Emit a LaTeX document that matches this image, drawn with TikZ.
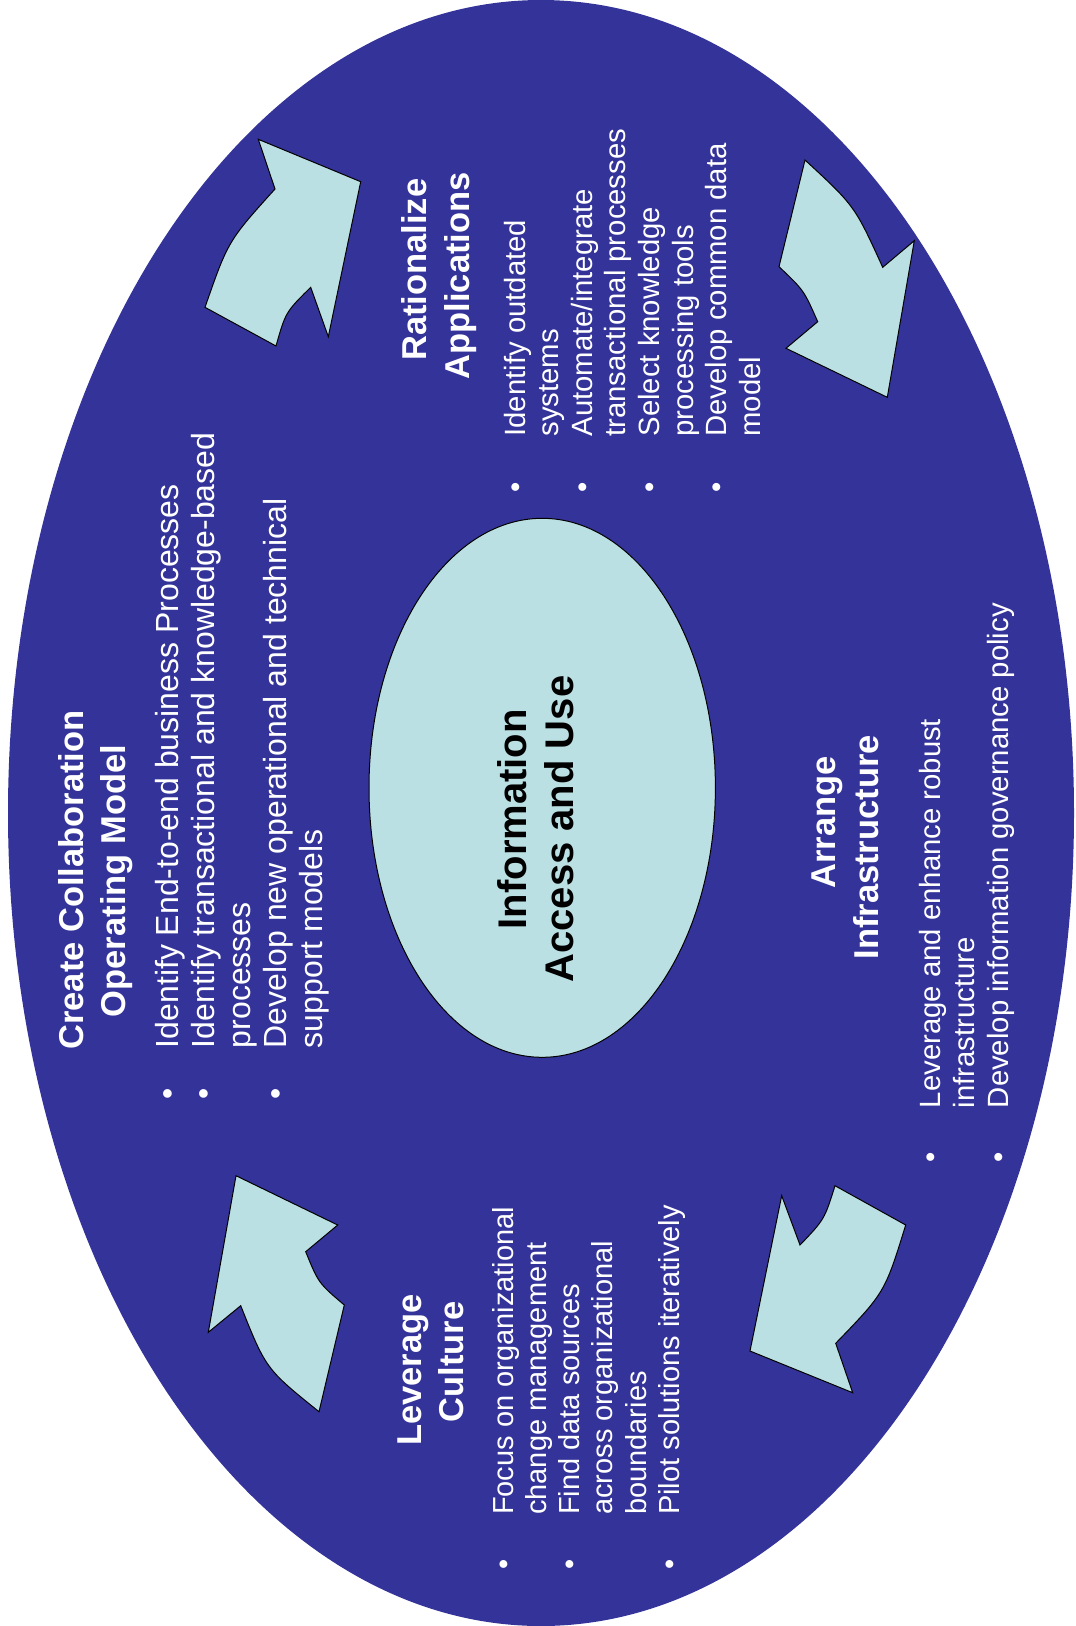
\documentclass[tikz,border=0pt]{standalone}
\usepackage{fontspec}
\setmainfont{Liberation Sans}
\definecolor{navy}{RGB}{51,51,153}
\definecolor{pale}{RGB}{187,224,227}
\newcommand\bul[1]{\llap{\textbullet\hspace{#1}}}
\tikzset{
  arrowshape/.style={fill=pale, draw=black, line width=1pt, line join=miter},
  head/.style={rotate=90, anchor=base, inner sep=0pt, text=white, font=\bfseries\fontsize{34.5}{40}\selectfont},
  body/.style={rotate=90, anchor=base west, inner sep=0pt, text=white},
  core/.style={rotate=90, anchor=base, inner sep=0pt, text=black, font=\bfseries\fontsize{40}{45}\selectfont}
}
\begin{document}
\begin{tikzpicture}[x=1pt,y=-1pt]
\useasboundingbox (0,0) rectangle (1076,1626);
% big ellipse
\fill[navy] (541,813) ellipse [x radius=533pt, y radius=813pt];
% inner ellipse
\draw[fill=pale, line width=1pt] (542.2,787.8) ellipse [x radius=173.2pt, y radius=269.5pt];

% arrow top-left
\draw[arrowshape] (258.3,139.3) -- (275,189) .. controls (228.1,241) .. (205,307.3)
  -- (276,346) .. controls (285.6,312.1) .. (310.7,287.3) -- (328.3,336.7) -- (360.7,181.7) -- cycle;
% arrow top-right
\draw[arrowshape] (805,160) .. controls (854.7,205.9) .. (882.7,267.3) -- (914.3,240.7)
  -- (887.3,397.3) -- (786,348.3) -- (817.7,321.7) .. controls (803.9,290.3) .. (779,266.7) -- cycle;
% arrow bottom-right
\draw[arrowshape] (835,1185.7) -- (905.7,1225) .. controls (884.8,1292.5) .. (835.7,1343.3)
  -- (852.7,1392.7) -- (750,1351) -- (781.7,1195.7) -- (800,1245) .. controls (824.4,1219.5) .. (835,1185.7) -- cycle;
% arrow bottom-left
\draw[arrowshape] (236,1175.7) -- (337.7,1225) -- (305.7,1251.7) .. controls (318.5,1283.1) .. (344.3,1305)
  -- (319,1411.7) .. controls (266,1369) .. (240.7,1305.7) -- (208.3,1332.3) -- cycle;

% centre text
\node[core] (c1) at (526.7,819.2) {Information};
\node[core] (c2) at (573.3,829) {Access and Use};

% Create Collaboration Operating Model
\node[head] (h1a) at (83.3,880) {Create Collaboration};
\node[head] (h1b) at (125,881) {Operating Model};
\node[body, font=\fontsize{32}{36}\selectfont] (b1) at (178.3,1048.3) {\begin{tabular}[t]{@{}l@{}}
\bul{40pt}Identify End-to-end business Processes\\
\bul{40pt}Identify transactional and knowledge-based\\
processes\\
\bul{40pt}Develop new operational and technical\\
support models\end{tabular}};

% Rationalize Applications
\node[head] (h2a) at (426,269.7) {Rationalize};
\node[head] (h2b) at (469.3,275.8) {Applications};
\node[body, font=\fontsize{29.3}{33.6}\selectfont] (b2) at (525,436.7) {\begin{tabular}[t]{@{}l@{}}
\bul{46pt}Identify outdated\\
systems\\
\bul{46pt}Automate/integrate\\
transactional processes\\
\bul{46pt}Select knowledge\\
processing tools\\
\bul{46pt}Develop common data\\
model\end{tabular}};

% Arrange Infrastructure
\node[head] (h3a) at (835,822.3) {Arrange};
\node[head] (h3b) at (878.3,847.4) {Infrastructure};
\node[body, font=\fontsize{29.3}{34.2}\selectfont] (b3) at (940,1108.3) {\begin{tabular}[t]{@{}l@{}}
\bul{44pt}Leverage and enhance robust\\
infrastructure\\
\bul{44pt}Develop information governance policy\end{tabular}};

% Leverage Culture
\node[head] (h4a) at (421.7,1370) {Leverage};
\node[head] (h4b) at (463.3,1362) {Culture};
\node[body, font=\fontsize{29}{33.2}\selectfont] (b4) at (513.3,1515) {\begin{tabular}[t]{@{}l@{}}
\bul{45pt}Focus on organizational\\
change management\\
\bul{45pt}Find data sources\\
across organizational\\
boundaries\\
\bul{45pt}Pilot solutions iteratively\end{tabular}};
\end{tikzpicture}
\end{document}
